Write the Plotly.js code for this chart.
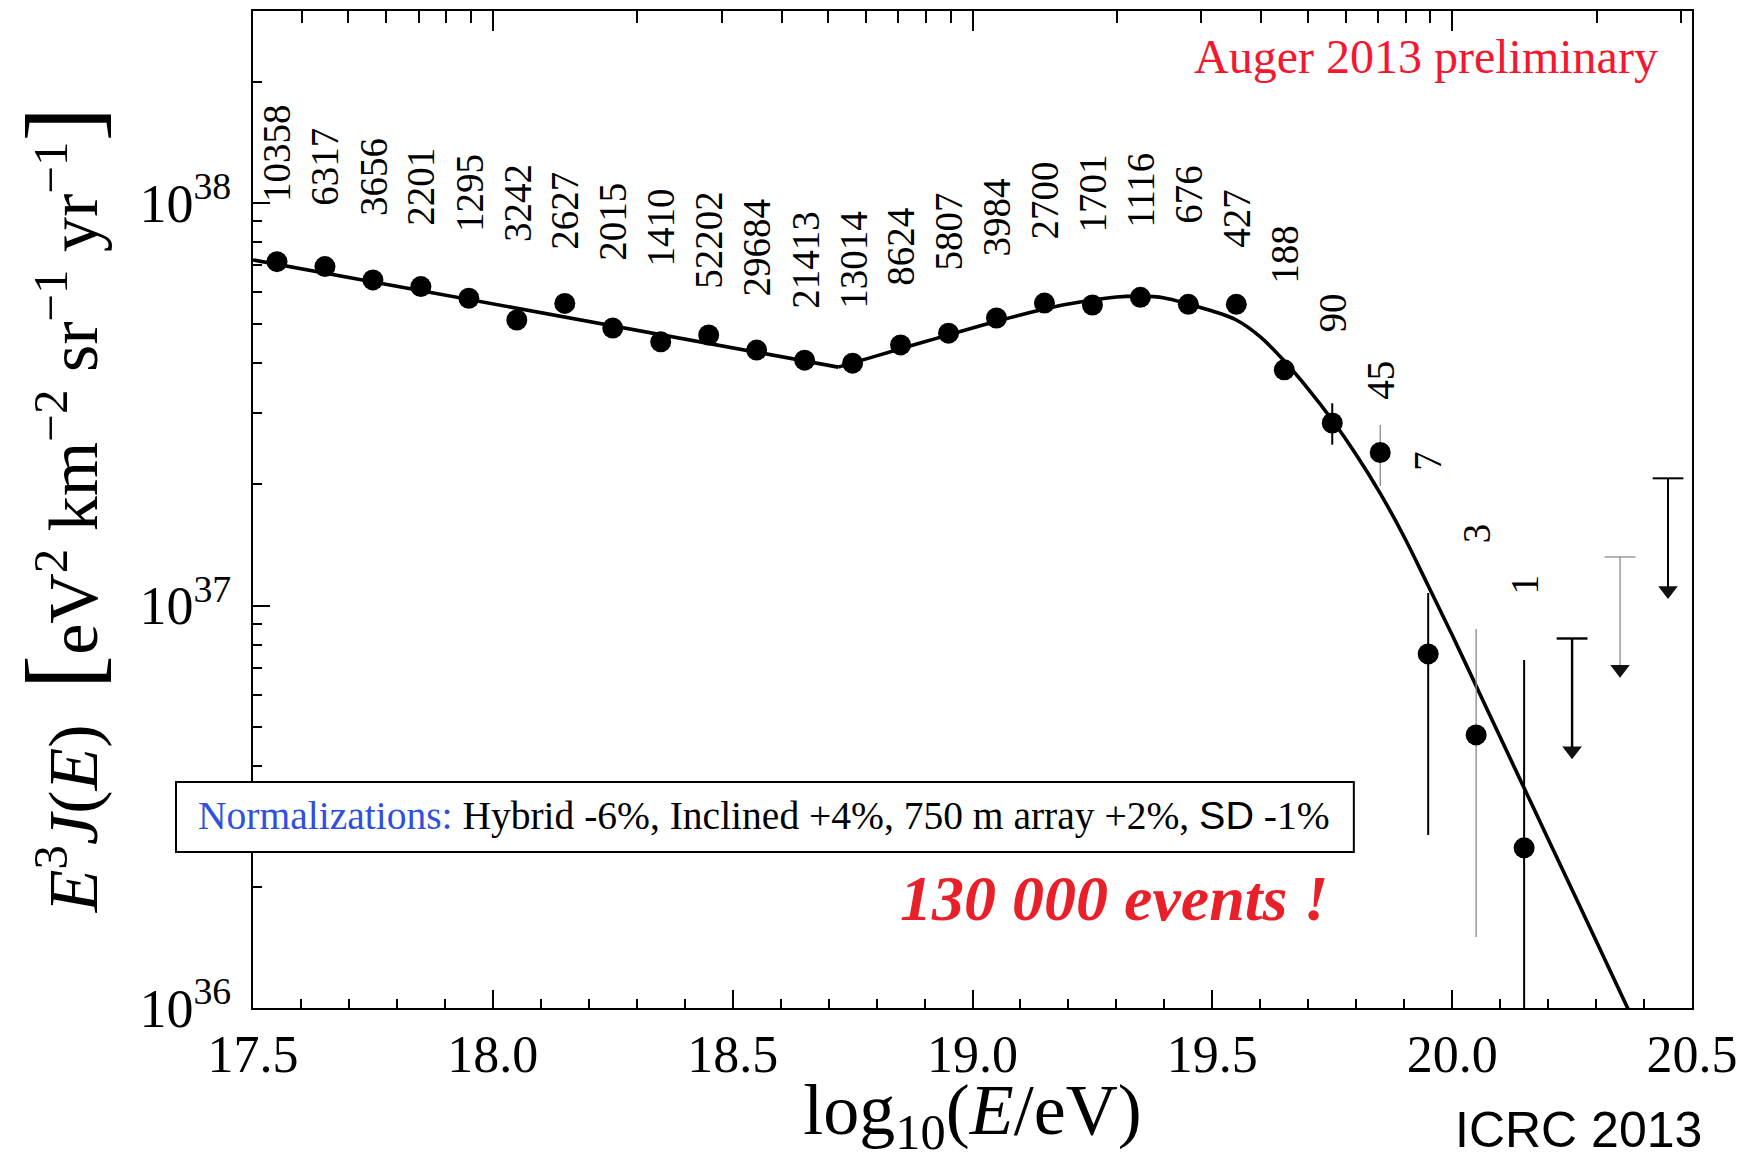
<!DOCTYPE html>
<html>
<head>
<meta charset="utf-8">
<script src="https://cdn.plot.ly/plotly-3.0.1.min.js"></script>
<style>html,body{margin:0;padding:0;background:#fff;}#chart{width:1744px;height:1160px;}</style>
</head>
<body>
<div id="chart"></div>
<script>
// ---------- data ----------
const binCenter = [17.55,17.65,17.75,17.85,17.95,18.05,18.15,18.25,18.35,18.45,18.55,18.65,18.75,18.85,18.95,19.05,19.15,19.25,19.35,19.45,19.55,19.65,19.75,19.85,19.95,20.05,20.15];
const flux = [7.15e37,6.95e37,6.44e37,6.20e37,5.80e37,5.12e37,5.63e37,4.89e37,4.52e37,4.70e37,4.31e37,4.07e37,4.00e37,4.44e37,4.75e37,5.18e37,5.64e37,5.58e37,5.83e37,5.60e37,5.60e37,3.85e37,2.84e37,2.40e37,7.58e36,4.77e36,2.50e36];
const eventCounts = ['10358','6317','3656','2201','1295','3242','2627','2015','1410','52202','29684','21413','13014','8624','5807','3984','2700','1701','1116','676','427','188','90','45','7','3','1'];
const countLabelY = [1.00e38,9.78e37,9.23e37,8.72e37,8.42e37,7.95e37,7.60e37,7.14e37,6.90e37,6.08e37,5.81e37,5.42e37,5.42e37,6.18e37,6.74e37,7.34e37,8.09e37,8.42e37,8.62e37,8.82e37,7.69e37,6.26e37,4.73e37,3.22e37,2.15e37,1.42e37,1.06e37];

const errX    = [19.75, 19.85, 19.95, 20.05, 20.15];
const errHigh = [3.18e37, 2.81e37, 1.074e37, 8.74e36, 7.32e36];
const errLow  = [2.51e37, 1.98e37, 2.69e36, 1.50e36, 5.0e35];

const limitX = [20.25, 20.35, 20.45];
const limitY = [8.28e36, 1.32e37, 2.07e37];

const fitX = [17.50,18.00,18.50,18.72,18.80,18.90,19.00,19.10,19.20,19.30,19.35,19.40,19.45,19.50,19.55,19.60,19.65,19.70,19.75,19.80,19.85,19.90,19.95,20.00,20.05,20.10,20.15,20.20,20.30,20.40];
const fitY = [7.22e37,5.62e37,4.37e37,3.91e37,4.17e37,4.52e37,4.89e37,5.27e37,5.61e37,5.84e37,5.87e37,5.81e37,5.61e37,5.39e37,5.12e37,4.65e37,4.05e37,3.45e37,2.89e37,2.37e37,1.90e37,1.48e37,1.12e37,8.45e36,6.31e36,4.71e36,3.52e36,2.63e36,1.47e36,8.18e35];
const ankleIndex = 3;

const xTickLabels = ['17.5','18.0','18.5','19.0','19.5','20.0','20.5'];
const yTickVals = [1e36, 1e37, 1e38];
const yTickText = ['10<sup>36</sup>','10<sup>37</sup>','10<sup>38</sup>'];

// ---------- styles ----------
const SERIF = 'Liberation Serif, Times New Roman, serif';
const GRAY = '#8a8a8a';
const barStyle = [{c:'#000',w:2},{c:GRAY,w:1.3},{c:'#000',w:2},{c:GRAY,w:1.3},{c:'#000',w:2}];
const limitStyle = [{c:'#000',w:2.4},{c:GRAY,w:1.3},{c:'#000',w:2}];
const arrowDecades = 0.30;      // arrow length
const headShiftDecades = 0.021; // triangle centre above the tip

const traces = [];

// fit curve: straight power law below the ankle, smooth above
traces.push({x: fitX.slice(0, ankleIndex+1), y: fitY.slice(0, ankleIndex+1), mode:'lines',
  line:{color:'#000', width:3.6}, hoverinfo:'skip'});
traces.push({x: fitX.slice(ankleIndex), y: fitY.slice(ankleIndex), mode:'lines',
  line:{color:'#000', width:3.6, shape:'spline', smoothing:1}, hoverinfo:'skip'});

// error bars
errX.forEach((x,i)=>{
  traces.push({x:[x,x], y:[errLow[i], errHigh[i]], mode:'lines',
    line:{color:barStyle[i].c, width:barStyle[i].w}, hoverinfo:'skip'});
});

// upper limits
limitX.forEach((x,i)=>{
  const L = limitY[i];
  const head = L * Math.pow(10, -arrowDecades + headShiftDecades);
  const st = limitStyle[i];
  traces.push({x:[x,x], y:[L, head], mode:'lines', line:{color:st.c, width:st.w}, hoverinfo:'skip'});
  traces.push({x:[x], y:[L], mode:'markers', marker:{symbol:'line-ew', size:22, line:{color:st.c, width:st.w}}, hoverinfo:'skip'});
  traces.push({x:[x], y:[head], mode:'markers', marker:{symbol:'triangle-down', size:17, color:'#111', line:{width:0}}, hoverinfo:'skip'});
});

// data points
traces.push({x: binCenter, y: flux, mode:'markers', marker:{symbol:'circle', size:21, color:'#000'}, hoverinfo:'x+y'});

// dummy trace for the top energy axis
traces.push({x:[17.5,20.5], y:[null,null], xaxis:'x2', mode:'markers', hoverinfo:'skip'});

// top axis: log-spaced ticks in energy
const topMajor = [18,19,20];
const topMinor = [];
[17,18,19,20].forEach(p=>{
  for (let k=2;k<=9;k++){ const v = p + Math.log10(k); if (v>17.5 && v<20.5) topMinor.push(v); }
});
const yMinor = [];
[36,37,38].forEach(p=>{ for (let k=2;k<=9;k++){ const v=k*Math.pow(10,p); if (Math.log10(v) < 38.477) yMinor.push(v);} });

const annotations = [];
binCenter.forEach((x,i)=>{
  annotations.push({x:x, y:Math.log10(countLabelY[i]), xref:'x', yref:'y', text:eventCounts[i],
    textangle:-90, xanchor:'center', yanchor:'bottom', showarrow:false, borderpad:0,
    font:{family:SERIF, size:39, color:'#000'}});
});
annotations.push({x:0.978, y:0.954, xref:'paper', yref:'paper', xanchor:'right', yanchor:'middle', showarrow:false,
  text:'Auger 2013 preliminary', font:{family:SERIF, size:48, color:'#f5172f'}});
annotations.push({x:-0.0396, y:0.1926, xref:'paper', yref:'paper', xanchor:'left', yanchor:'middle', showarrow:false,
  text:'<span style="color:#2f4fe0">Normalizations:</span> Hybrid -6%, Inclined +4%, 750 m array +2%, <span style="font-family:Liberation Sans">SD</span> -1%',
  font:{family:SERIF, size:39.5, color:'#000'}});
annotations.push({x:0.598, y:0.110, xref:'paper', yref:'paper', xanchor:'center', yanchor:'middle', showarrow:false,
  text:'<b><i>130 000 events !</i></b>', font:{family:SERIF, size:64, color:'#e8202a'}});
annotations.push({x:1.0084, y:-0.152, xref:'paper', yref:'paper', xanchor:'right', yanchor:'bottom', showarrow:false,
  text:'ICRC 2013', font:{family:'Liberation Sans, Arial, sans-serif', size:50, color:'#000'}});

const layout = {
  width:1744, height:1160,
  margin:{l:253, r:52, t:11, b:152},
  paper_bgcolor:'#fff', plot_bgcolor:'#fff',
  showlegend:false,
  font:{family:SERIF, color:'#000'},
  xaxis:{range:[17.5,20.5], tickmode:'array', tickvals:xTickLabels.map(Number), ticktext:xTickLabels,
    ticks:'inside', ticklen:18, tickwidth:2, tickcolor:'#000',
    showline:true, linewidth:2, linecolor:'#000', mirror:true, showgrid:false, zeroline:false,
    tickfont:{family:SERIF, size:52, color:'#000'},
    minor:{dtick:0.1, tick0:17.5, ticklen:9, tickwidth:2, ticks:'inside', tickcolor:'#000', showgrid:false},
    title:{text:'log<sub>10</sub>(<i>E</i>/eV)', font:{family:SERIF, size:72, color:'#000'}, standoff:11}},
  xaxis2:{overlaying:'x', side:'top', range:[17.5,20.5], tickmode:'array', tickvals:topMajor,
    ticks:'inside', ticklen:20, tickwidth:2, tickcolor:'#000', showticklabels:false,
    showgrid:false, zeroline:false, showline:false,
    minor:{tickmode:'array', tickvals:topMinor, ticklen:12, tickwidth:2, ticks:'inside', tickcolor:'#000', showgrid:false}},
  yaxis:{type:'log', range:[36, 38.477], tickmode:'array', tickvals:yTickVals, ticktext:yTickText,
    ticks:'inside', ticklen:17, tickwidth:2, tickcolor:'#000', ticklabelstandoff:9,
    showline:true, linewidth:2, linecolor:'#000', mirror:true, showgrid:false, zeroline:false,
    tickfont:{family:SERIF, size:54, color:'#000'},
    minor:{tickmode:'array', tickvals:yMinor, ticklen:9, tickwidth:2, ticks:'inside', tickcolor:'#000', showgrid:false},
    title:{text:'<i>E</i><sup>3</sup><i>J</i>(<i>E</i>)  <span style="font-size:104px">[</span>eV<sup>2</sup> km<sup>−2</sup> sr<sup>−1</sup> yr<sup>−1</sup><span style="font-size:104px">]</span>',
      font:{family:SERIF, size:70, color:'#000'}, standoff:19}},
  shapes:[{type:'rect', xref:'paper', yref:'paper', x0:-0.0535, x1:0.765, y0:0.1565, y1:0.2267,
    line:{color:'#000', width:2}, fillcolor:'#fff', layer:'above'}],
  annotations:annotations
};

Plotly.newPlot('chart', traces, layout, {staticPlot:true, displayModeBar:false});
</script>
</body>
</html>
